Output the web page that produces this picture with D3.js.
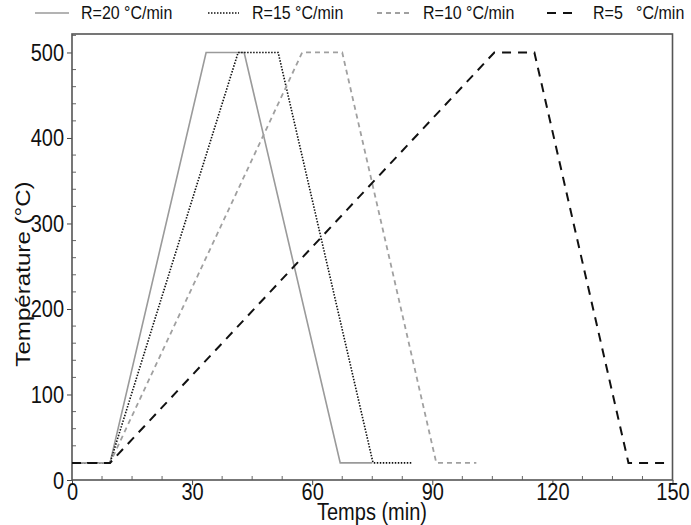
<!DOCTYPE html>
<html><head><meta charset="utf-8">
<script src="https://cdn.jsdelivr.net/npm/d3@7"></script>
<style>body{margin:0;background:#fff}svg{display:block;font-family:"Liberation Sans",Arial,sans-serif}</style>
</head><body><svg id="c" width="691" height="525"></svg>
<script>
const seriesNames = ["R=20 °C/min","R=15 °C/min","R=10 °C/min","R=5\u00a0\u00a0\u00a0°C/min"];
const r20 = [[0,20],[9.5,20],[33.5,500],[43,500],[67,20],[75,20]];
const r15 = [[0,20],[9.5,20],[41.5,500],[51.5,500],[75.2,20],[85,20]];
const r10 = [[0,20],[9.5,20],[57.5,500],[67.5,500],[91,20],[101,20]];
const r5  = [[0,20],[9.5,20],[105.5,500],[115.5,500],[139,20],[149,20]];
const xTicks = [0,30,60,90,120,150];
const yTicks = [0,100,200,300,400,500];

const styles = [
  {color:"#9a9a9a", width:1.6, dash:null},
  {color:"#111", width:1.6, dash:"1.5,1.5"},
  {color:"#a0a0a0", width:1.8, dash:"5,4"},
  {color:"#111", width:2, dash:"9,7"}
];
const data = [r20,r15,r10,r5];
const SY = 1.15;

const svg = d3.select("#c");
const m = {l:72, r:672.5, t:34, b:480};
const x = d3.scaleLinear().domain([0,150]).range([m.l,m.r]);
const y = d3.scaleLinear().domain([0,521.6]).range([m.b,m.t]);

// minor ticks (inside)
const xMinor = d3.range(0,150.01,7.5).filter(v=>v%30!==0);
const yMinor = d3.range(0,521,20).filter(v=>v%100!==0);
svg.append("g").selectAll("line").data(xMinor).join("line")
  .attr("x1",d=>x(d)).attr("x2",d=>x(d)).attr("y1",m.b).attr("y2",m.b-4)
  .attr("stroke","#666").attr("stroke-width",1);
svg.append("g").selectAll("line").data(yMinor).join("line")
  .attr("y1",d=>y(d)).attr("y2",d=>y(d)).attr("x1",m.l).attr("x2",m.l+4)
  .attr("stroke","#666").attr("stroke-width",1);

const xAxis = svg.append("g").attr("transform",`translate(0,${m.b})`)
  .call(d3.axisBottom(x).tickValues(xTicks).tickSize(5).tickSizeOuter(0));
const yAxis = svg.append("g").attr("transform",`translate(${m.l},0)`)
  .call(d3.axisLeft(y).tickValues(yTicks).tickSize(5).tickSizeOuter(0));
[xAxis,yAxis].forEach(a=>{
  a.select(".domain").remove();
  a.selectAll("line").attr("stroke","#444");
  a.selectAll("text").attr("fill","#111").style("font-size","20px")
    .style("font-family","Liberation Sans, Arial, sans-serif")
    .attr("x",null).attr("y",null).attr("dy",null);
});
xAxis.selectAll("text").attr("text-anchor","middle").attr("transform",`translate(0,20) scale(1,${SY})`);
yAxis.selectAll("text").attr("text-anchor","end").attr("transform",`translate(-8,8) scale(1,${SY})`);

// frame
svg.append("rect").attr("x",m.l).attr("y",m.t).attr("width",m.r-m.l).attr("height",m.b-m.t)
  .attr("fill","none").attr("stroke","#555").attr("stroke-width",1.6);

const line = d3.line().x(d=>x(d[0])).y(d=>y(d[1]));
data.forEach((s,i)=>{
  svg.append("path").attr("d",line(s)).attr("fill","none")
    .attr("stroke",styles[i].color).attr("stroke-width",styles[i].width)
    .attr("stroke-dasharray",styles[i].dash);
});

// axis titles
svg.append("text").attr("transform",`translate(372,520) scale(1,${SY})`).attr("text-anchor","middle")
  .style("font-size","20px").attr("fill","#111").text("Temps (min)");
svg.append("text").attr("transform",`translate(30,274) scale(1,${SY}) rotate(-90)`).attr("text-anchor","middle")
  .style("font-size","21px").attr("fill","#111").text("Température (°C)");

// legend
const legX = [[35,69,81],[208,239,252],[377,409,423],[547,574,593]];
seriesNames.forEach((n,i)=>{
  const g = svg.append("g");
  g.append("line").attr("x1",legX[i][0]).attr("x2",legX[i][1]).attr("y1",13).attr("y2",13)
    .attr("stroke",styles[i].color).attr("stroke-width",styles[i].width).attr("stroke-dasharray",styles[i].dash);
  g.append("text").attr("transform",`translate(${legX[i][2]},19) scale(1,${SY})`)
    .style("font-size","16px").attr("fill","#111").text(n);
});
</script></body></html>
